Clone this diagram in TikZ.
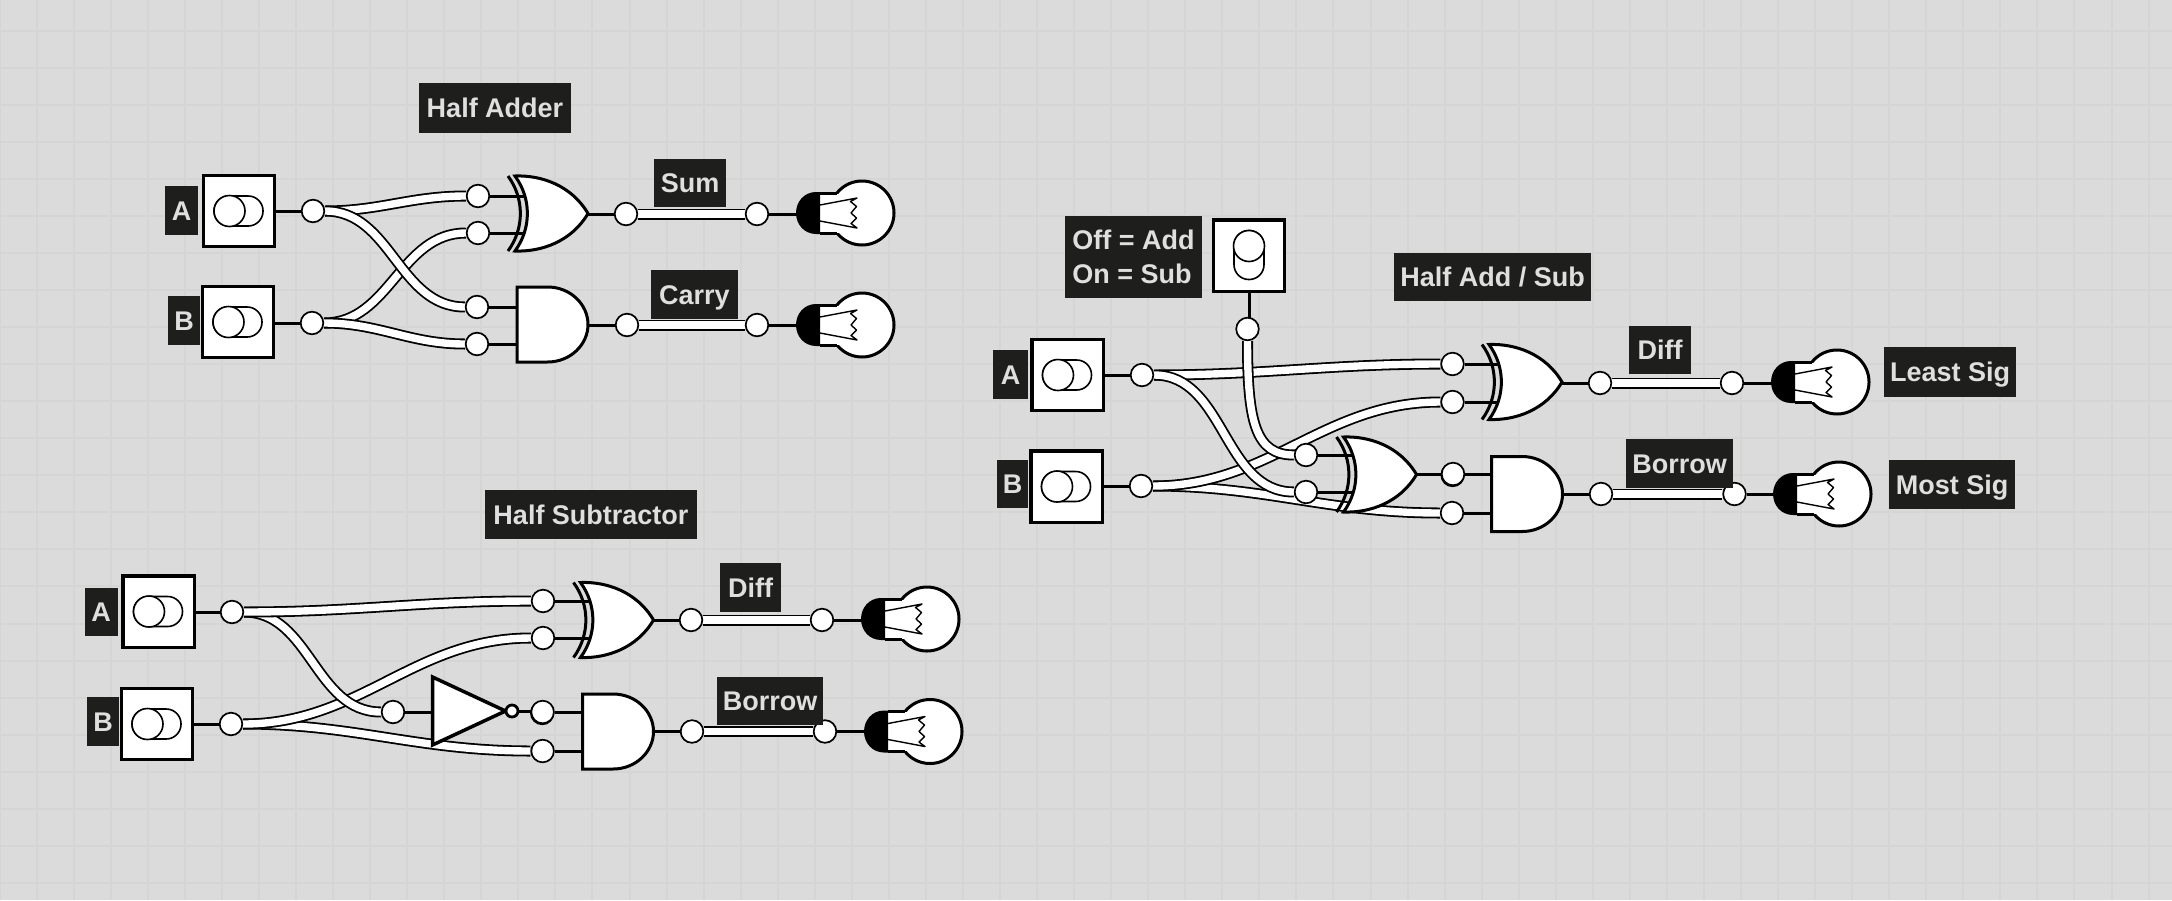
\documentclass[tikz,border=0pt]{standalone}
\usepackage{fontspec}
\setmainfont{Liberation Sans}
\usetikzlibrary{backgrounds}
\definecolor{canvas}{HTML}{DBDBDB}
\definecolor{gridcol}{HTML}{D5D5D5}
\definecolor{tagfill}{HTML}{1E1E1C}
\definecolor{tagtext}{HTML}{DFDFDF}

\begin{document}
\begin{tikzpicture}[
            x=0.5pt, y=-0.5pt,
            gridline/.style={draw=gridcol, line width=1pt},
            port/.style={circle, draw, fill=white, line width=0.85pt, minimum size=11.3pt, inner sep=0pt},
            bubble/.style={circle, draw, fill=white, line width=1.4pt, minimum size=6pt, inner sep=0pt},
            switchbox/.style={rectangle, draw, fill=white, line width=1.6pt, minimum size=35.6pt, inner sep=0pt},
            wire/.style={draw=black, line width=0.9pt, double=white, double distance=3.7pt},
            lead/.style={draw=black, line width=1.5pt},
            tag/.style 2 args={rectangle, fill=tagfill, text=tagtext, inner sep=0pt,
                font=\fontsize{13.5}{17}\selectfont\bfseries, minimum width=#1*0.5pt, minimum height=#2*0.5pt},
            tagline/.style={text height=9.7pt, text depth=0pt},
            toggle/.pic={
                \draw[line width=0.8pt, fill=white, rounded corners=7.4pt] (-25,-15) rectangle (24,15);
                \draw[line width=0.8pt, fill=white] (-9.5,0) circle (15.5);
            },
            xor gate/.pic={
                \draw[line width=1.5pt] (-43.5,-37.5) .. controls (-27,-15) and (-27,15) .. (-43.5,37.5);
                \draw[line width=1.5pt, fill=white] (-36.5,-37.5) .. controls (-10,-38.5) and (20,-28) .. (36.5,0)
                    .. controls (20,28) and (-10,38.5) .. (-36.5,37.5)
                    .. controls (-20,15) and (-20,-15) .. cycle;
                \coordinate (-in) at (-28,0);
                \coordinate (-out) at (36.5,0);
            },
            and gate/.pic={
                \draw[line width=1.5pt, fill=white] (-35.5,-37.5) -- (-5,-37.5)
                    .. controls (18,-37.5) and (35.5,-20) .. (35.5,0)
                    .. controls (35.5,20) and (18,37.5) .. (-5,37.5)
                    -- (-35.5,37.5) -- cycle;
                \coordinate (-in) at (-30,0);
                \coordinate (-out) at (35.5,0);
            },
            not gate/.pic={
                \draw[line width=1.75pt, fill=white] (-36.5,-34) -- (36.5,0) -- (-36.5,34) -- cycle;
                \coordinate (-in) at (-30,0);
            },
            bulb/.pic={
                \draw[line width=1.5pt, fill=white] (0,0) circle (32);
                \fill[white] (-42,-19.5) rectangle (-20,19.5);
                \draw[line width=1.5pt] (-42,-20) -- (-25.5,-20) (-42,20) -- (-25.5,20);
                \fill[black] (-42,-21) -- (-46,-21) .. controls (-58,-21) and (-66,-11) .. (-66,0)
                    .. controls (-66,11) and (-58,21) .. (-46,21) -- (-42,21) -- cycle;
                \draw[line width=0.7pt, line join=round] (-42,-8) -- (-5,-15) -- (-11.5,-11.5) -- (-5.5,-6.5)
                    -- (-11,0) -- (-5.5,5) -- (-11,10.5) -- (-5,15) -- (-42,8);
                \coordinate (-in) at (-60,0);
            }
    ]
        \useasboundingbox (0,0) rectangle (2172,900);

        % Canvas and grid
        \begin{scope}[on background layer]
            \fill[canvas] (0,0) rectangle (2172,900);
            \foreach \gx in {0,...,59} \draw[gridline] ({-0.35+37.05*\gx},0) -- ++(0,900);
            \foreach \gy in {0,...,24} \draw[gridline] (0,{30.7-37.05+37.05*\gy}) -- ++(2172,0);
        \end{scope}

        % Half Adder
        \node[switchbox] (ha_sw_a) at (239,211) {};
        \pic at (ha_sw_a) {toggle};
        \node[switchbox] (ha_sw_b) at (238,322) {};
        \pic at (ha_sw_b) {toggle};
        \pic (ha_xor) at (551.5,213.5) {xor gate};
        \pic (ha_and) at (552.5,324.5) {and gate};
        \pic (ha_lamp_s) at (862,213) {bulb};
        \pic (ha_lamp_c) at (862,325) {bulb};
        \node[port] (ha_a) at (313,211) {};
        \node[port] (ha_b) at (312,323) {};
        \node[port] (ha_xor_a) at (478,196) {};
        \node[port] (ha_xor_b) at (478,233) {};
        \node[port] (ha_and_a) at (477,307) {};
        \node[port] (ha_and_b) at (477,344) {};
        \node[port] (ha_sum) at (626,214) {};
        \node[port] (ha_sum_end) at (757,214) {};
        \node[port] (ha_carry) at (627,325) {};
        \node[port] (ha_carry_end) at (757,325) {};
        \node[tag={152}{50}, tagline] (ha_title) at (495,108) {Half Adder};
        \node[tag={33}{49}, tagline] (ha_lab_a) at (181.5,210.5) {A};
        \node[tag={32}{49}, tagline] (ha_lab_b) at (184,320.5) {B};
        \node[tag={72}{48}, tagline] (ha_lab_s) at (690,183) {Sum};
        \node[tag={87}{49}, tagline] (ha_lab_c) at (694.5,294.5) {Carry};

        % Half Subtractor
        \node[switchbox] (hs_sw_a) at (158.5,611.5) {};
        \pic at (hs_sw_a) {toggle};
        \node[switchbox] (hs_sw_b) at (157,724) {};
        \pic at (hs_sw_b) {toggle};
        \pic (hs_xor) at (617,620) {xor gate};
        \pic (hs_and) at (618,731.5) {and gate};
        \pic (hs_not) at (469,711) {not gate};
        \pic (hs_lamp_d) at (927,619) {bulb};
        \pic (hs_lamp_b) at (930,731.5) {bulb};
        \node[bubble] (hs_bub) at (512,711) {};
        \node[port] (hs_a) at (232,612) {};
        \node[port] (hs_b) at (231,724) {};
        \node[port] (hs_xor_a) at (543,601) {};
        \node[port] (hs_xor_b) at (543,638) {};
        \node[port] (hs_not_in) at (393,712) {};
        \node[port] (hs_and_a2) at (542.2,713) {};
        \node[port] (hs_and_a) at (542.6,712) {};
        \node[port] (hs_and_b) at (542.6,751) {};
        \node[port] (hs_diff) at (691,620) {};
        \node[port] (hs_diff_end) at (822,620) {};
        \node[port] (hs_bor) at (692,731.5) {};
        \node[port] (hs_bor_end) at (825,731.5) {};
        \node[tag={212}{49}, tagline] (hs_title) at (591,514.5) {Half Subtractor};
        \node[tag={33}{48}, tagline] (hs_lab_a) at (101,612) {A};
        \node[tag={32}{49}, tagline] (hs_lab_b) at (103,721.5) {B};
        \node[tag={61}{49}, tagline] (hs_lab_d) at (750.5,587.5) {Diff};
        \node[tag={106}{48}, tagline] (hs_lab_bor) at (770,701) {Borrow};

        % Half Add / Sub
        \node[switchbox] (as_sw_m) at (1249,255.5) {};
        \pic[rotate=-90] at (as_sw_m) {toggle};
        \node[switchbox] (as_sw_a) at (1067.5,375) {};
        \pic at (as_sw_a) {toggle};
        \node[switchbox] (as_sw_b) at (1066.5,486.5) {};
        \pic at (as_sw_b) {toggle};
        \pic (as_xor1) at (1525.5,382) {xor gate};
        \pic (as_xor2) at (1380,474.5) {xor gate};
        \pic (as_and) at (1527,494) {and gate};
        \pic (as_lamp_d) at (1837,382) {bulb};
        \pic (as_lamp_b) at (1839,494) {bulb};
        \node[port] (as_m) at (1247.5,329) {};
        \node[port] (as_a) at (1142,375) {};
        \node[port] (as_b) at (1141,486) {};
        \node[port] (as_xor1_a) at (1452.5,364) {};
        \node[port] (as_xor1_b) at (1452.5,402) {};
        \node[port] (as_xor2_a) at (1306,455) {};
        \node[port] (as_xor2_b) at (1306,492) {};
        \node[port] (as_and_a2) at (1452.6,475) {};
        \node[port] (as_and_a) at (1453,474) {};
        \node[port] (as_and_b) at (1452,513) {};
        \node[port] (as_diff) at (1600,383) {};
        \node[port] (as_diff_end) at (1732,383) {};
        \node[port] (as_bor) at (1601,494) {};
        \node[port] (as_bor_end) at (1734.5,494) {};
        \node[tag={137}{82}, align=left] (as_mode) at (1133.5,257) {Off = Add\\On = Sub};
        \node[tag={197}{48}, tagline] (as_title) at (1492.5,277) {Half Add / Sub};
        \node[tag={35}{49}, tagline] (as_lab_a) at (1010.5,374.5) {A};
        \node[tag={31}{48}, tagline] (as_lab_b) at (1012.5,484) {B};
        \node[tag={62}{48}, tagline] (as_lab_d) at (1660,350) {Diff};
        \node[tag={107}{49}, tagline] (as_lab_bor) at (1679.5,463.5) {Borrow};
        \node[tag={132}{50}, tagline] (as_lab_ls) at (1950,372) {Least Sig};
        \node[tag={126}{49}, tagline] (as_lab_ms) at (1952,484.5) {Most Sig};

        % Connectors go under the gates and ports
        \begin{scope}[on background layer]
            % Half Adder
            \draw[lead] (ha_sw_a) -- (ha_a);
            \draw[lead] (ha_b -| ha_sw_b) -- (ha_b);
            \draw[lead] (ha_xor_a) -- (ha_xor_a -| ha_xor-in);
            \draw[lead] (ha_xor_b) -- (ha_xor_b -| ha_xor-in);
            \draw[lead] (ha_and_a) -- (ha_and_a -| ha_and-in);
            \draw[lead] (ha_and_b) -- (ha_and_b -| ha_and-in);
            \draw[lead] (ha_sum -| ha_xor-out) -- (ha_sum);
            \draw[lead] (ha_carry -| ha_and-out) -- (ha_carry);
            \draw[lead] (ha_sum_end) -- (ha_sum_end -| ha_lamp_s-in);
            \draw[lead] (ha_carry_end) -- (ha_lamp_c-in);
            \draw[wire] (ha_b) to[out=0, in=180] (ha_xor_b);
            \draw[wire] (ha_b) to[out=0, in=180] (ha_and_b);
            \draw[wire] (ha_a) to[out=0, in=180] (ha_xor_a);
            \draw[wire] (ha_a) to[out=0, in=180] (ha_and_a);
            \draw[wire] (ha_sum) -- (ha_sum_end);
            \draw[wire] (ha_carry) -- (ha_carry_end);

            % Half Subtractor
            \draw[lead] (hs_a -| hs_sw_a) -- (hs_a);
            \draw[lead] (hs_sw_b) -- (hs_b);
            \draw[lead] (hs_xor_a) -- (hs_xor_a -| hs_xor-in);
            \draw[lead] (hs_xor_b) -- (hs_xor_b -| hs_xor-in);
            \draw[lead] (hs_and_a) -- (hs_and_a -| hs_and-in);
            \draw[lead] (hs_and_b) -- (hs_and_b -| hs_and-in);
            \draw[lead] (hs_not_in) -- (hs_not_in -| hs_not-in);
            \draw[lead] (hs_bub) -- (hs_bub -| hs_and_a);
            \draw[lead] (hs_xor-out) -- (hs_diff);
            \draw[lead] (hs_and-out) -- (hs_bor);
            \draw[lead] (hs_diff_end) -- (hs_diff_end -| hs_lamp_d-in);
            \draw[lead] (hs_bor_end) -- (hs_lamp_b-in);
            \draw[wire] (hs_b) to[out=0, in=180] (hs_and_b);
            \draw[wire] (hs_b) to[out=0, in=180] (hs_xor_b);
            \draw[wire] (hs_a) to[out=0, in=180] (hs_not_in);
            \draw[wire] (hs_a) to[out=0, in=180] (hs_xor_a);
            \draw[wire] (hs_diff) -- (hs_diff_end);
            \draw[wire] (hs_bor) -- (hs_bor_end);

            % Half Add / Sub
            \draw[lead] (as_sw_m) -- (as_sw_m |- as_m);
            \draw[lead] (as_sw_a) -- (as_a);
            \draw[lead] (as_b -| as_sw_b) -- (as_b);
            \draw[lead] (as_xor1_a) -- (as_xor1_a -| as_xor1-in);
            \draw[lead] (as_xor1_b) -- (as_xor1_b -| as_xor1-in);
            \draw[lead] (as_xor2_a) -- (as_xor2_a -| as_xor2-in);
            \draw[lead] (as_xor2_b) -- (as_xor2_b -| as_xor2-in);
            \draw[lead] (as_and_a) -- (as_and_a -| as_and-in);
            \draw[lead] (as_and_b) -- (as_and_b -| as_and-in);
            \draw[lead] (as_and_a -| as_xor2-out) -- (as_and_a);
            \draw[lead] (as_diff -| as_xor1-out) -- (as_diff);
            \draw[lead] (as_and-out) -- (as_bor);
            \draw[lead] (as_diff_end) -- (as_diff_end -| as_lamp_d-in);
            \draw[lead] (as_bor_end) -- (as_lamp_b-in);
            \draw[wire] (as_a) to[out=0, in=180] (as_xor1_a);
            \draw[wire] (as_b) to[out=0, in=180] (as_and_b);
            \draw[wire] (as_b) to[out=0, in=180] (as_xor1_b);
            \draw[wire] (as_a) to[out=0, in=180] (as_xor2_b);
            \draw[wire] (as_m) to[out=270, in=180, out looseness=1.7, in looseness=0.8] (as_xor2_a);
            \draw[wire] (as_diff) -- (as_diff_end);
            \draw[wire] (as_bor) -- (as_bor_end);
        \end{scope}

    \end{tikzpicture}
\end{document}
